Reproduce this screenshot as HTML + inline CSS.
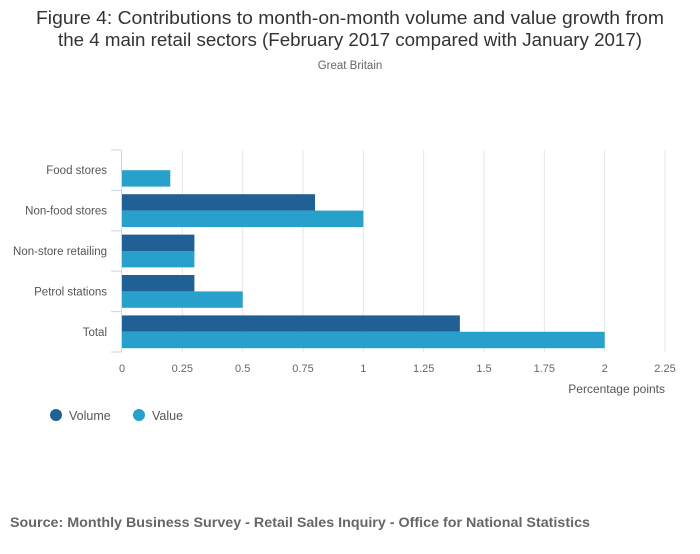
<!DOCTYPE html>
<html><head><meta charset="utf-8"><style>
body{margin:0;background:#fff;font-family:"Liberation Sans","DejaVu Sans",sans-serif;}
</style></head><body>
<svg width="700" height="549" xmlns="http://www.w3.org/2000/svg" id="svg">
<text x="350" y="24" text-anchor="middle" font-size="18" fill="#333" textLength="628" lengthAdjust="spacingAndGlyphs">Figure 4: Contributions to month-on-month volume and value growth from</text>
<text x="350" y="46" text-anchor="middle" font-size="18" fill="#333" textLength="584" lengthAdjust="spacingAndGlyphs">the 4 main retail sectors (February 2017 compared with January 2017)</text>
<text x="350" y="69" text-anchor="middle" font-size="11.5" fill="#666">Great Britain</text>
<g id="grid"></g><g id="bars"></g><g id="axes"></g>
<text x="665" y="393" text-anchor="end" font-size="12" fill="#555">Percentage points</text>
<g>
<g><circle cx="56" cy="415" r="6" fill="#206095"/><text x="69" y="420" font-size="12.5" fill="#555">Volume</text></g>
<g><circle cx="139" cy="415" r="6" fill="#27a0cc"/><text x="152" y="420" font-size="12.5" fill="#555">Value</text></g>
</g>
<text x="10" y="527" font-size="13.5" font-weight="bold" fill="#666" textLength="580" lengthAdjust="spacingAndGlyphs">Source: Monthly Business Survey - Retail Sales Inquiry - Office for National Statistics</text>
</svg>
<script>
const categories=["Food stores","Non-food stores","Non-store retailing","Petrol stations","Total"];
const volume=[0,0.8,0.3,0.3,1.4];
const value=[0.2,1.0,0.3,0.5,2.0];
const ticks=[0,0.25,0.5,0.75,1,1.25,1.5,1.75,2,2.25];
const tickLabels=["0","0.25","0.5","0.75","1","1.25","1.5","1.75","2","2.25"];
const NS="http://www.w3.org/2000/svg";
const x0=122,x1=665,plotTop=150,band=40.4;
function xs(v){return x0+(v/2.25)*(x1-x0);}
function ys(i){return plotTop+i*band;}
function mk(t,a,p){const e=document.createElementNS(NS,t);for(const k in a)e.setAttribute(k,a[k]);p.appendChild(e);return e;}
const grid=document.getElementById('grid'),bars=document.getElementById('bars'),axes=document.getElementById('axes');
ticks.forEach((t,i)=>{
 if(i>0){const g=mk('line',{x1:xs(t),x2:xs(t),y1:plotTop,y2:ys(categories.length),stroke:'#e6e6e6'},grid);
 
 }
 const l=mk('text',{x:xs(t),y:372,'text-anchor':'middle','font-size':'11',fill:'#666'},axes);
 l.textContent=tickLabels[i];
 
 
});
const ax=mk('line',{x1:121.5,x2:121.5,y1:plotTop,y2:ys(categories.length),stroke:'#ccd6eb'},axes);


for(let i=0;i<=categories.length;i++){const tk=mk('line',{x1:111,x2:121.5,y1:ys(i),y2:ys(i),stroke:'#ccd6eb'},axes);
 
 }
categories.forEach((c,i)=>{
 const l=mk('text',{x:107,y:ys(i)+band/2+4,'text-anchor':'end','font-size':'11.5',fill:'#555'},axes);
 l.textContent=c;
 
 
 const b1=mk('rect',{x:xs(0),y:ys(i)+3.8,width:xs(volume[i])-xs(0),height:16.4,fill:'#206095'},bars);
 
 
 const b2=mk('rect',{x:xs(0),y:ys(i)+20.2,width:xs(value[i])-xs(0),height:16.4,fill:'#27a0cc'},bars);
 
 
});
</script>
</body></html>
